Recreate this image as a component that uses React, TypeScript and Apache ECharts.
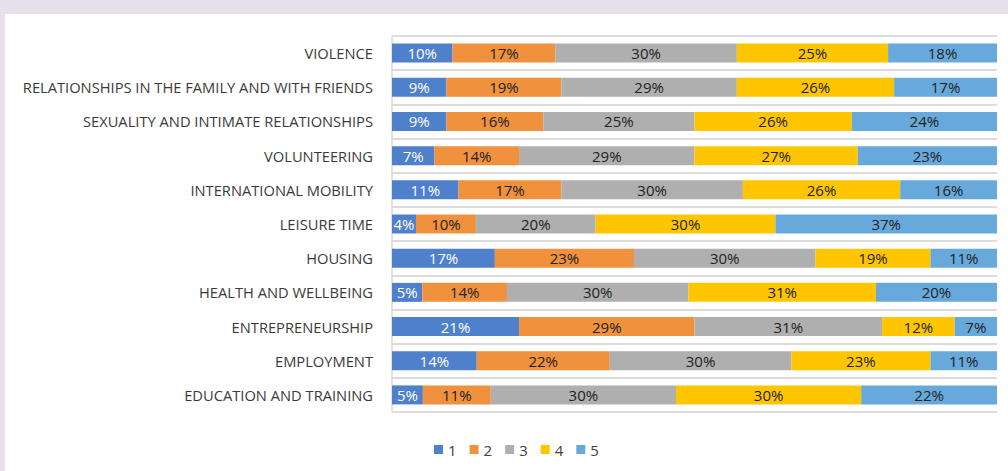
import React, { useEffect, useRef } from "react";
import * as echarts from "echarts";

const categories = [
  "VIOLENCE",
  "RELATIONSHIPS IN THE FAMILY AND WITH FRIENDS",
  "SEXUALITY AND INTIMATE RELATIONSHIPS",
  "VOLUNTEERING",
  "INTERNATIONAL MOBILITY",
  "LEISURE TIME",
  "HOUSING",
  "HEALTH AND WELLBEING",
  "ENTREPRENEURSHIP",
  "EMPLOYMENT",
  "EDUCATION AND TRAINING",
];

const seriesNames = ["1", "2", "3", "4", "5"];
const s1 = [10, 9, 9, 7, 11, 4, 17, 5, 21, 14, 5];
const s2 = [17, 19, 16, 14, 17, 10, 23, 14, 29, 22, 11];
const s3 = [30, 29, 25, 29, 30, 20, 30, 30, 31, 30, 30];
const s4 = [25, 26, 26, 27, 26, 30, 19, 31, 12, 23, 30];
const s5 = [18, 17, 24, 23, 16, 37, 11, 20, 7, 11, 22];

const colors = ["#4e80cc", "#f0913e", "#afafaf", "#ffc600", "#68a9dc"];

export default function App() {
  const ref = useRef<HTMLDivElement>(null);
  useEffect(() => {
    if (!ref.current) return;
    const chart = echarts.init(ref.current, null, { renderer: "svg" });
    const all = [s1, s2, s3, s4, s5];
    const totals = categories.map((_, i) => all.reduce((a, s) => a + s[i], 0));
    chart.setOption({
      animation: false,
      backgroundColor: "#e5e0ec",
      graphic: [
        {
          type: "rect",
          z: -10,
          silent: true,
          shape: { x: 5, y: 14, width: 1003, height: 457 },
          style: { fill: "#ffffff" },
        },
      ],
      grid: { left: 392, right: 11, top: 36, bottom: 59 },
      legend: {
        top: 437,
        left: 429,
        itemWidth: 9,
        itemHeight: 9,
        itemGap: 13,
        icon: "rect",
        textStyle: { fontFamily: "Open Sans", fontSize: 15, color: "#404040" },
        data: seriesNames,
      },
      xAxis: {
        type: "value",
        min: 0,
        max: 100,
        show: false,
      },
      yAxis: {
        type: "category",
        inverse: true,
        data: categories,
        axisTick: { show: false },
        axisLine: { show: true, lineStyle: { color: "#d9d9d9", width: 1.5 } },
        splitLine: { show: true, lineStyle: { color: "#dcdcdc", width: 2 } },
        axisLabel: {
          margin: 19,
          fontFamily: "Open Sans",
          fontSize: 14.7,
          color: "#3a3a3a",
        },
      },
      series: all.map((s, k) => ({
        name: seriesNames[k],
        type: "bar",
        stack: "total",
        barWidth: 19,
        itemStyle: { color: colors[k] },
        label: {
          show: true,
          position: "inside",
          fontFamily: "Open Sans",
          fontSize: 15,
          color: k === 0 ? "#ffffff" : "#222222",
          formatter: (p: any) => s[p.dataIndex] + "%",
        },
        data: s.map((v, i) => (v / totals[i]) * 100),
      })),
    });
    return () => chart.dispose();
  }, []);
  return (
    <div
      ref={ref}
      style={{ position: "absolute", left: 0, top: 0, width: 1008, height: 471 }}
    />
  );
}
